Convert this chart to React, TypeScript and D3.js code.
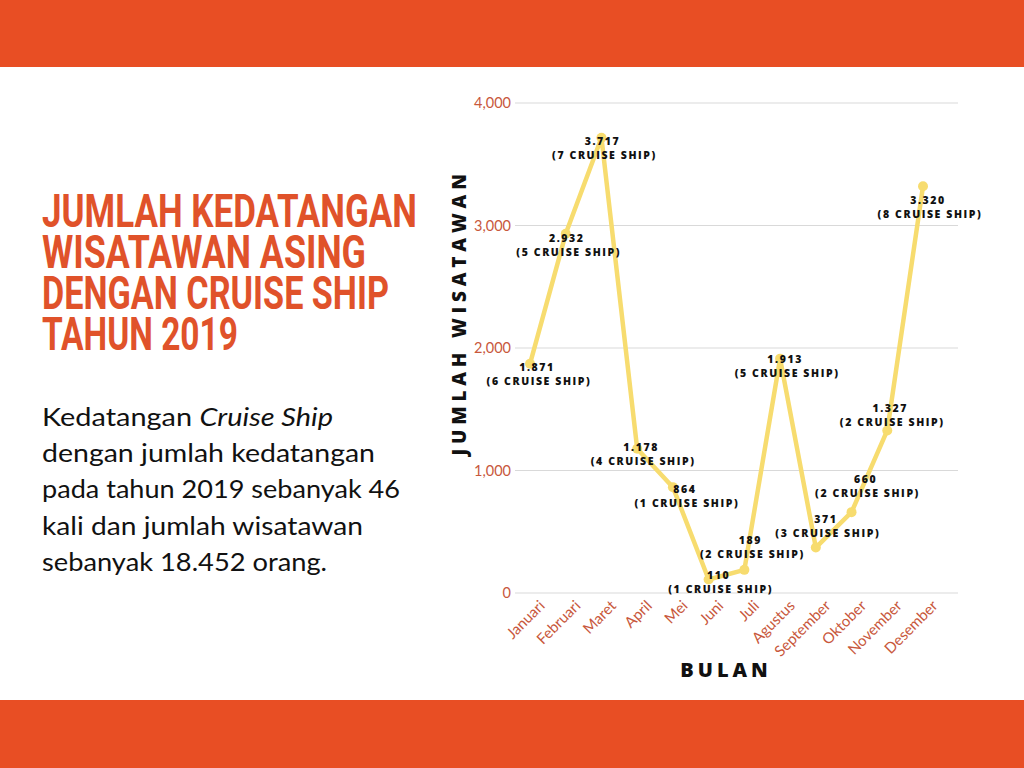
import React from 'react';
import * as d3 from 'd3';

const months = ['Januari', 'Februari', 'Maret', 'April', 'Mei', 'Juni', 'Juli', 'Agustus', 'September', 'Oktober', 'November', 'Desember'];
const tourists = [1871, 2932, 3717, 1178, 864, 110, 189, 1913, 371, 660, 1327, 3320];
const ships = [6, 5, 7, 4, 1, 1, 2, 5, 3, 2, 2, 8];
const yTicks = [0, 1000, 2000, 3000, 4000];

// label nudges relative to each point (layout only)
const labelDx = [7, 1, 1, 4, 12, 10, 6, 5, 10, 14, 3, 5];
const labelDy = [4, 4, 4, -1, 2, -4, -30, 1, -28, -33, -22, 14];

const titleLines = ['JUMLAH KEDATANGAN', 'WISATAWAN ASING', 'DENGAN CRUISE SHIP', 'TAHUN 2019'];
const titleWidths = [375, 324, 347, 196];
const paraWidths = [291, 333, 358, 321, 285];

const ORANGE = '#E84E24';
const LINE = '#F7DC6F';
const TICK = '#C8583C';

const fmtDot = (v: number) => v.toLocaleString('de-DE');
const fmtComma = d3.format(',');

export default function App() {
  const x = d3.scalePoint<string>().domain(months).range([530, 923]);
  const y = d3.scaleLinear().domain([0, 4000]).range([593, 103]);
  const line = d3.line<number>()
    .x((_, i) => x(months[i])!)
    .y(d => y(d));

  return (
    <svg width={1024} height={768} style={{ position: 'absolute', left: 0, top: 0, background: '#fff' }}>
      <rect x={0} y={0} width={1024} height={67} fill={ORANGE} />
      <rect x={0} y={700} width={1024} height={68} fill={ORANGE} />

      {/* title */}
      <g fontFamily="Roboto" fontWeight={700} fill="#E0522A" fontSize={46}>
        {titleLines.map((t, i) => (
          <text key={t} x={42} y={227 + i * 41} textLength={titleWidths[i]} lengthAdjust="spacingAndGlyphs">{t}</text>
        ))}
      </g>

      {/* paragraph */}
      <g fontFamily="Lato" fontSize={25} fill="#111">
        <text x={42} y={426} textLength={paraWidths[0]} lengthAdjust="spacingAndGlyphs">Kedatangan <tspan fontStyle="italic">Cruise Ship</tspan></text>
        <text x={42} y={462} textLength={paraWidths[1]} lengthAdjust="spacingAndGlyphs">dengan jumlah kedatangan</text>
        <text x={42} y={498} textLength={paraWidths[2]} lengthAdjust="spacingAndGlyphs">pada tahun 2019 sebanyak 46</text>
        <text x={42} y={535} textLength={paraWidths[3]} lengthAdjust="spacingAndGlyphs">kali dan jumlah wisatawan</text>
        <text x={42} y={571} textLength={paraWidths[4]} lengthAdjust="spacingAndGlyphs">sebanyak 18.452 orang.</text>
      </g>

      {/* grid + y ticks */}
      {yTicks.map(t => (
        <g key={t}>
          <line x1={515} x2={958} y1={y(t)} y2={y(t)} stroke="#d9d9d9" strokeWidth={1} />
          <text x={511} y={y(t)} dy="0.35em" textAnchor="end" fontFamily="Lato" fontSize={14.5} fill={TICK}>{fmtComma(t)}</text>
        </g>
      ))}

      {/* x ticks */}
      {months.map(m => (
        <text key={m} transform={`translate(${x(m)! + 12},${603}) rotate(-45)`} textAnchor="end" dy="0.35em"
          fontFamily="Lato" fontSize={15} fill={TICK}>{m}</text>
      ))}

      {/* axis titles */}
      <text transform="translate(466,313) rotate(-90)" textAnchor="middle" fontFamily="Open Sans" fontWeight={800}
        fontSize={19} letterSpacing={3.5} fill="#111" textLength={285}>JUMLAH WISATAWAN</text>
      <text x={726} y={677} textAnchor="middle" fontFamily="Open Sans" fontWeight={800} fontSize={20} letterSpacing={4} fill="#111">BULAN</text>

      {/* line + points */}
      <path d={line(tourists)!} fill="none" stroke={LINE} strokeWidth={4.5} strokeLinejoin="round" />
      {tourists.map((v, i) => (
        <circle key={i} cx={x(months[i])} cy={y(v)} r={5} fill={LINE} />
      ))}

      {/* data labels */}
      <g fontFamily="Open Sans" fontWeight={800} fontSize={10.5} letterSpacing={1.6} fill="#111" textAnchor="middle">
        {tourists.map((v, i) => {
          const cx = x(months[i])! + labelDx[i];
          const cy = y(v) + labelDy[i];
          return (
            <g key={i}>
              <text x={cx} y={cy} dy="0.35em">{fmtDot(v)}</text>
              <text x={cx + 2} y={cy + 14} dy="0.35em">({ships[i]} CRUISE SHIP)</text>
            </g>
          );
        })}
      </g>
    </svg>
  );
}
